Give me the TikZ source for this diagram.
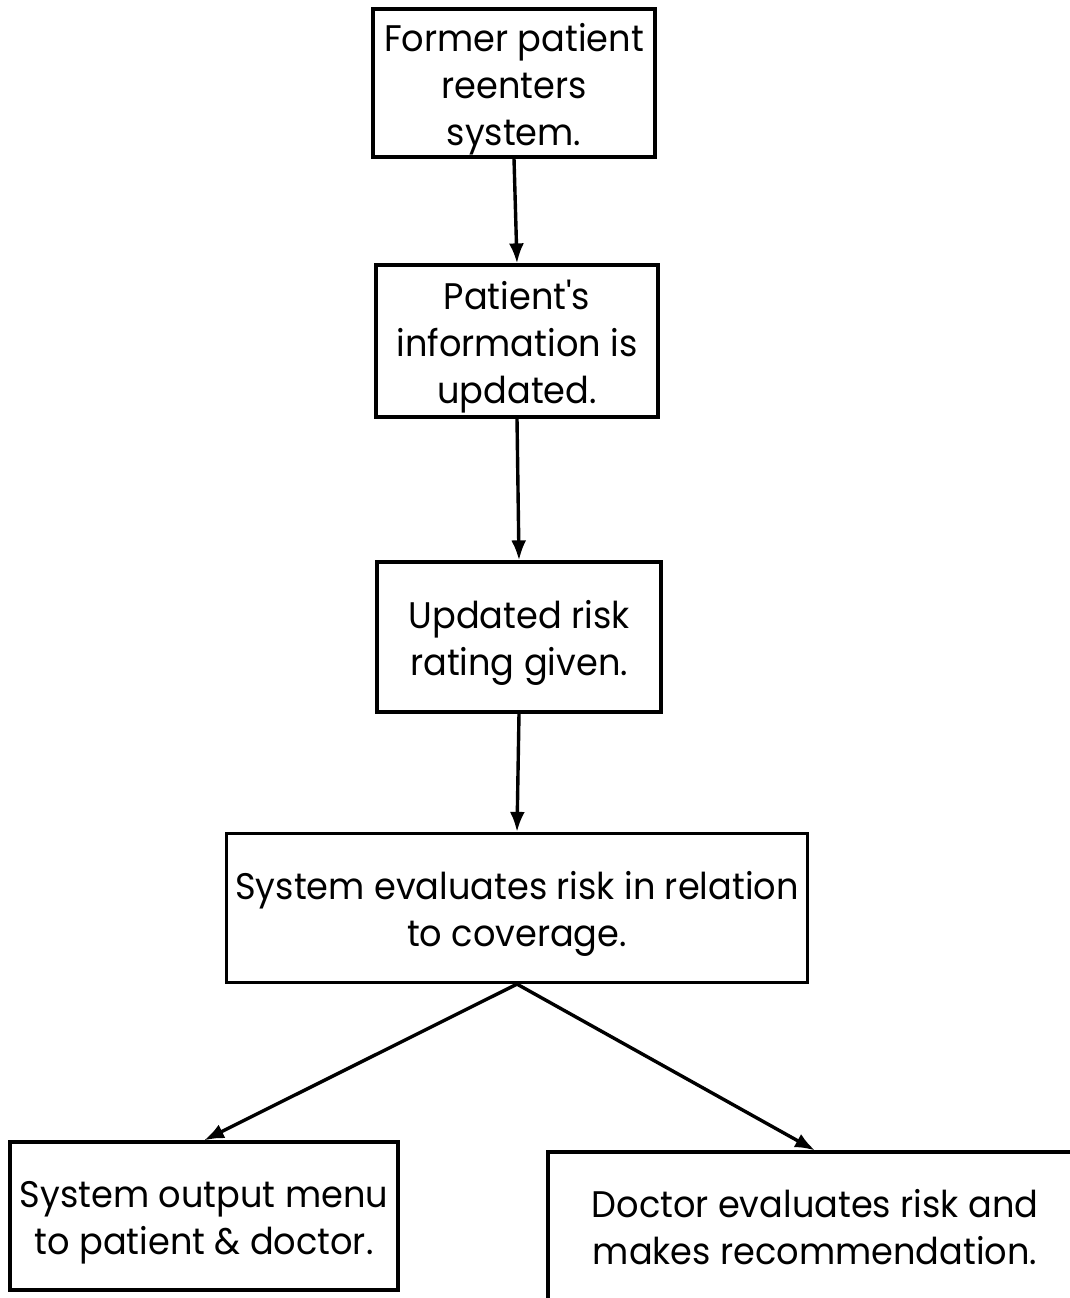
\documentclass[tikz,border=0pt]{standalone}
\usepackage{fontspec}
\newfontfamily\stepfont{Poppins}[FakeStretch=0.95]
\usetikzlibrary{arrows.meta}
% centred block of lines, lowered a little inside its box (box size kept)
\newcommand{\boxlines}[2][-6pt]{\raisebox{#1}[\height][\depth]{\begin{tabular}{@{}c@{}}#2\end{tabular}}}
\begin{document}
\begin{tikzpicture}[x=1pt,y=1pt,
  stepbox/.style={draw, line width=3.2pt, inner sep=0pt,
    font={\stepfont\fontsize{37}{47}\selectfont}},
  flow/.style={line width=3.4pt, -{Latex[length=20pt,width=15pt]}}]
\useasboundingbox (0,0) rectangle (1070,-1298);
\begin{scope}
\clip (0,0) rectangle (1070,-1298);
\node[stepbox, minimum width=282pt, minimum height=148pt] (b1) at (514,-83)
  {\boxlines{Former patient\\reenters\\system.}};
\node[stepbox, minimum width=282pt, minimum height=152pt] (b2) at (517,-341)
  {\boxlines{Patient's\\information is\\updated.}};
\node[stepbox, minimum width=284pt, minimum height=150pt] (b3) at (519,-637)
  {\boxlines{Updated risk\\rating given.}};
\node[stepbox, minimum width=581pt, minimum height=149pt] (b4) at (517,-908)
  {\boxlines{System evaluates risk in relation\\to coverage.}};
\node[stepbox, minimum width=388pt, minimum height=148pt] (b5) at (204,-1216)
  {\boxlines{System output menu\\to patient \& doctor.}};
\node[stepbox, minimum width=534pt, minimum height=160pt] (b6) at (815,-1232)
  {\boxlines[0pt]{Doctor evaluates risk and\\makes recommendation.}};
\end{scope}
\draw[flow] (b1.south) -- (b2.north);
\draw[flow] (b2.south) -- (b3.north);
\draw[flow] (b3.south) -- (b4.north);
\draw[flow] (b4.south) -- (b5.north);
\draw[flow] (b4.south) -- (b6.north);
\end{tikzpicture}
\end{document}
